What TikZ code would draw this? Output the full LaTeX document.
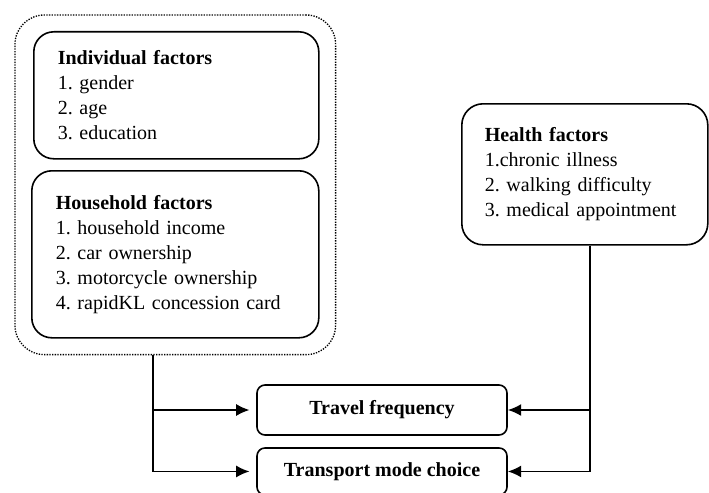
\documentclass[tikz,border=0pt]{standalone}
\usepackage{fontspec}
\setmainfont{Liberation Serif}
\usetikzlibrary{arrows.meta,fit}

\begin{document}
\frenchspacing
\begin{tikzpicture}[x=1pt,y=-1pt,
    factorbox/.style={draw,line width=1.2pt,rounded corners=15pt,align=left,
      anchor=north west,inner xsep=18pt,
      font=\fontsize{15}{18.75}\selectfont},
    outcomebox/.style={draw,line width=1.2pt,rounded corners=6pt,
      minimum width=187.5pt,font=\bfseries\fontsize{15}{18}\selectfont},
    link/.style={line width=1.3pt,-{Latex[length=10pt,width=9pt]}}]
                    \clip (0,0) rectangle (531.75,369);

                    \node[factorbox,text width=177.75pt,minimum height=95.25pt] (indiv) at (24.75,23.25)
                      {\textbf{Individual factors}\\1. gender\\2. age\\3. education};
                    \node[factorbox,text width=179.25pt,minimum height=125.25pt] (house) at (23.25,127.5)
                      {\textbf{Household factors}\\1. household income\\2. car ownership\\3. motorcycle ownership\\4. rapidKL concession card};
                    \node[draw,dash pattern=on 1pt off 1pt,line width=1pt,rounded corners=22pt,
                      fit=(indiv)(house),inner sep=12pt] (group) {};

                    \node[factorbox,inner xsep=17.25pt,text width=150pt,minimum height=105.75pt,rounded corners=16pt] (health) at (345.75,77.25)
                      {\textbf{Health factors}\\1.chronic illness\\2. walking difficulty\\3. medical appointment};

                    \node[outcomebox,minimum height=37.5pt] (travel) at (286.5,307.5) {Travel frequency};
                    \node[outcomebox,minimum height=35.25pt] (mode) at (286.5,353.6) {Transport mode choice};

                    \coordinate (lfork) at (114.75,0);
                    \coordinate (rfork) at (442.5,0);

                    \draw[link,shorten >=5pt] (group.south -| lfork) |- (travel.west);
                    \draw[link,shorten >=5pt] (group.south -| lfork) |- (mode.west);
                    \draw[link] (health.south -| rfork) |- (travel.east);
                    \draw[link] (health.south -| rfork) |- (mode.east);
                \end{tikzpicture}
\end{document}
